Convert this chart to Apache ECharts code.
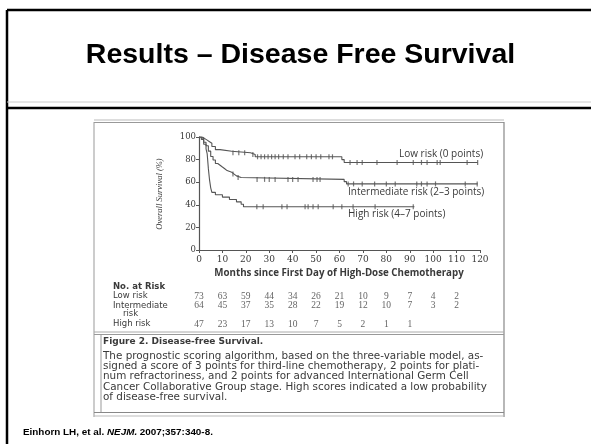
<!DOCTYPE html>
<html><head><meta charset="utf-8">
<script src="https://cdn.jsdelivr.net/npm/echarts@6/dist/echarts.min.js"></script>
<style>html,body{margin:0;padding:0;background:#fff}#c{width:591px;height:444px}</style>
</head><body><div id="c"></div>
<script>
// ---- data ----
const xTicks = [0,10,20,30,40,50,60,70,80,90,100,110,120];
const yTicks = [0,20,40,60,80,100];
const lowRiskCurve = [[0,100],[1.5,98.6],[2.5,97.2],[3.5,95.8],[4.5,94.4],[5.5,91.6],[7,88.8],[9,87.4],[14,86],[22,84.5],[24,82.5],[61,80],[62,77.5],[119,77.5]];
const interRiskCurve = [[0,100],[1,98.4],[2,95.3],[3,92.2],[4,87.5],[5,82.8],[6,79.7],[7,76.6],[8,75],[9,73.4],[10,71.9],[11,70.3],[12,68.8],[14,67.2],[15,65.6],[16,64.1],[18,62.5],[62,60.5],[63,58.5],[119,58.5]];
const highRiskCurve = [[0,100],[1,97.9],[2,93.6],[3,89.4],[3.5,85],[4,72],[4.5,62],[5,55],[5.5,51],[7,48.9],[10,46.8],[13,44.7],[16,42.6],[18,40.5],[19,38.3],[92,38.3]];
const lowRiskCensor = [14.5,17,19.5,23,25,26.5,28,29.5,31,32.5,34,36,38,41,43,46,48,50,52,55.5,57,64.5,67.5,69.7,76,84.6,91.5,95,97.4,101.7,103,114.5,119];
const interRiskCensor = [14.5,16.7,24.8,28,30,32.5,38,40,42.3,48.7,50.4,51.7,63.7,66,69.7,75,80,83.8,93,95,97.4,101,113.7,118.8];
const highRiskCensor = [24.7,27.4,35.4,37.6,45.3,46.6,48.7,50.9,57.3,61,65.8,75.2,91.5];
const riskTimes = [0,10,20,30,40,50,60,70,80,90,100,110];
const atRiskLow = [73,63,59,44,34,26,21,10,9,7,4,2];
const atRiskInter = [64,45,37,35,28,22,19,12,10,7,3,2];
const atRiskHigh = [47,23,17,13,10,7,5,2,1,1];
const riskRows = ['Low risk','Intermediate','High risk'];
const curveLabels = ['Low risk (0 points)','Intermediate risk (2\u20133 points)','High risk (4\u20137 points)'];
const captionTitle = 'Figure 2. Disease-free Survival.';
const captionLines = [
 'The prognostic scoring algorithm, based on the three-variable model, as-',
 'signed a score of 3 points for third-line chemotherapy, 2 points for plati-',
 'num refractoriness, and 2 points for advanced International Germ Cell',
 'Cancer Collaborative Group stage. High scores indicated a low probability',
 'of disease-free survival.'
];

// ---- helpers ----
function kmAt(curve, t){ let v = curve[0][1]; for (const p of curve){ if (p[0] <= t) v = p[1]; } return v; }
const censor = (curve, ts) => ts.map(t => [t, kmAt(curve, t)]);

const ink = '#555';
const txt = '#3a3a3a';
const serif = '"DejaVu Serif", serif';
const sans = '"Open Sans", sans-serif';
const wide = '"DejaVu Sans", sans-serif';

function T(x, y, text, font, opts){
  opts = opts || {};
  return Object.assign({type:'text', x:x, y:y, silent:true, style:{text:text, font:font, fill:opts.fill||txt,
    align:opts.align||'left', verticalAlign:opts.va||'middle', textAlign:opts.align||'left', textVerticalAlign:opts.va||'middle'}}, opts.rotation!=null?{rotation:opts.rotation}:{});
}
function L(x1,y1,x2,y2,stroke,w){ return {type:'line', silent:true, shape:{x1:x1,y1:y1,x2:x2,y2:y2}, style:{stroke:stroke, lineWidth:w}}; }

const graphics = [
  L(7,10,7,444,'#000',2.5),
  L(7,10,591,10,'#000',2.5),
  L(7,102,591,102,'#ccc',1),
  L(7,108,591,108,'#000',2.5),
  T(300.5,55,'Results \u2013 Disease Free Survival','bold 28.5px "Liberation Sans", Arial, sans-serif',{fill:'#000',align:'center'}),
  // figure frame
  L(94,120,504,120,'#bbb',1),
  L(94,122.5,504,122.5,'#999',1),
  L(94,122,94,417,'#999',1),
  L(504,122,504,417,'#888',1.2),
  L(94,332,504,332,'#aaa',1),
  L(94,334.5,504,334.5,'#999',1),
  L(101,334,101,412,'#999',1),
  L(94,412.5,504,412.5,'#888',1.2),
  L(94,416,504,416,'#bbb',1),
  // axis titles
  T(160,194,'Overall Survival (%)','italic 8.5px "Liberation Serif", serif',{align:'center',rotation:Math.PI/2}),
  T(339,273,'Months since First Day of High-Dose Chemotherapy','bold 9.75px '+sans,{align:'center'}),
  // curve labels
  T(399,154,curveLabels[0],'10px '+sans),
  T(348,192,curveLabels[1],'10px '+sans),
  T(348,214,curveLabels[2],'10px '+sans),
  // risk table labels
  T(113,287,'No. at Risk','bold 8.5px '+wide),
  T(113,296,riskRows[0],'8.5px '+wide),
  T(113,305.5,riskRows[1],'8.5px '+wide),
  T(123,314,'risk','8.5px '+wide),
  T(113,324,riskRows[2],'8.5px '+wide),
  // caption
  T(103,342,captionTitle,'bold 9px '+wide),
  // footer
  {type:'text', x:23, y:432, silent:true, style:{text:'{b|Einhorn LH, et al. }{i|NEJM.}{b| 2007;357:340-8.}', verticalAlign:'middle', textVerticalAlign:'middle',
    rich:{b:{font:'bold 9.9px "Liberation Sans", Arial, sans-serif', fill:'#000'}, i:{font:'italic bold 9.9px "Liberation Sans", Arial, sans-serif', fill:'#000'}}}}
];
captionLines.forEach((s,i)=>graphics.push(T(103,356+i*10.3,s,'10.4px '+wide)));

const lineSeries = (name, curve) => ({name:name, type:'line', step:'end', data:curve, showSymbol:false, symbol:'none',
  lineStyle:{color:ink, width:1.1}, xAxisIndex:0, yAxisIndex:0, silent:true, animation:false});
const censorSeries = (name, pts) => ({name:name, type:'scatter', data:pts, symbol:'rect', symbolSize:[1.2,5],
  itemStyle:{color:ink}, xAxisIndex:0, yAxisIndex:0, silent:true, animation:false});
const riskSeries = (vals, row) => ({type:'scatter', xAxisIndex:1, yAxisIndex:1, symbolSize:0, silent:true, animation:false,
  data: vals.map((v,i)=>[riskTimes[i], row, v]),
  label:{show:true, position:'inside', formatter:p=>String(p.value[2]), fontFamily:'"Liberation Serif", serif', fontSize:9.5, color:txt}});

const chart = echarts.init(document.getElementById('c'), null, {renderer:'canvas'});
chart.setOption({
  animation:false,
  backgroundColor:'#fff',
  grid:[{left:199, top:137, width:281, height:113, containLabel:false},
        {left:199, top:296, width:281, height:28, containLabel:false}],
  xAxis:[{type:'value', gridIndex:0, min:0, max:120, interval:10, 
          axisLine:{lineStyle:{color:ink, width:1}}, axisTick:{show:true, length:3, lineStyle:{color:ink}},
          axisLabel:{fontFamily:serif, fontSize:9, color:txt, margin:5, showMaxLabel:true, showMinLabel:true}, splitLine:{show:false}},
         {type:'value', gridIndex:1, min:0, max:120, show:false}],
  yAxis:[{type:'value', gridIndex:0, min:0, max:100, interval:20,
          axisLine:{show:true, lineStyle:{color:ink, width:1.2}}, axisTick:{show:true, length:3, lineStyle:{color:ink}},
          axisLabel:{fontFamily:serif, fontSize:8.5, color:txt, margin:3}, splitLine:{show:false}},
         {type:'value', gridIndex:1, min:0, max:3, inverse:true, show:false}],
  series:[
    lineSeries('Low risk', lowRiskCurve),
    lineSeries('Intermediate risk', interRiskCurve),
    lineSeries('High risk', highRiskCurve),
    censorSeries('Low censor', censor(lowRiskCurve, lowRiskCensor)),
    censorSeries('Inter censor', censor(interRiskCurve, interRiskCensor)),
    censorSeries('High censor', censor(highRiskCurve, highRiskCensor)),
    riskSeries(atRiskLow, 0),
    riskSeries(atRiskInter, 1),
    riskSeries(atRiskHigh, 3)
  ],
  graphic: graphics
});
</script></body></html>
